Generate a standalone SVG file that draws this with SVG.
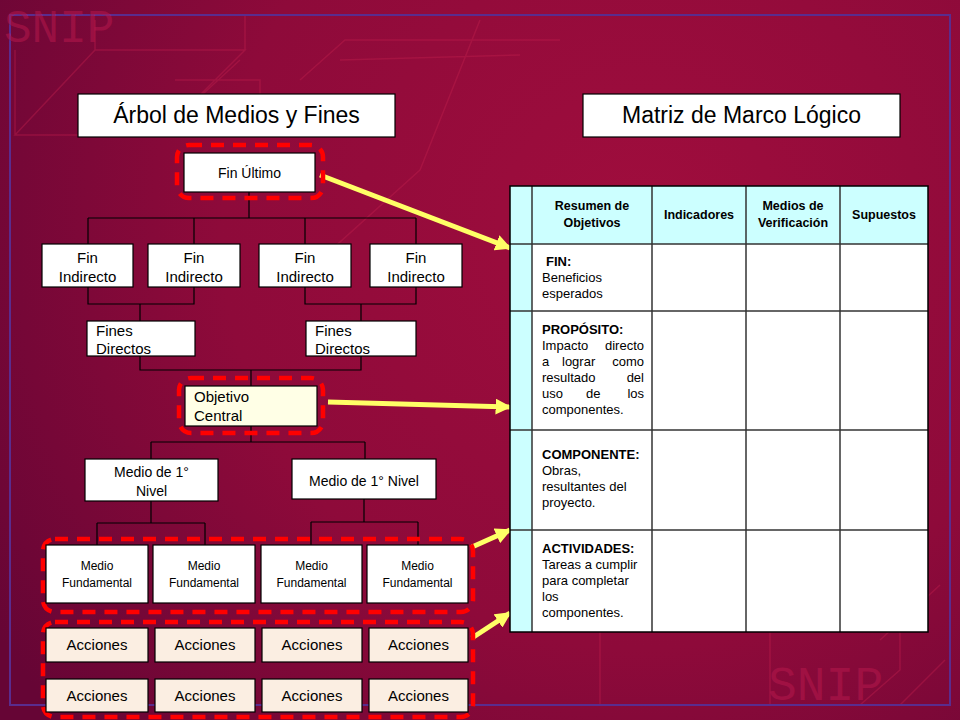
<svg xmlns="http://www.w3.org/2000/svg" width="960" height="720" viewBox="0 0 960 720">
<defs>
<radialGradient id="bg" cx="640" cy="230" r="760" gradientUnits="userSpaceOnUse">
<stop offset="0" stop-color="#a00d3d"/>
<stop offset="0.55" stop-color="#8e0a3a"/>
<stop offset="1" stop-color="#660535"/>
</radialGradient>
<marker id="ah" viewBox="0 0 10 10" refX="9" refY="5" markerWidth="3.2" markerHeight="3.2" orient="auto" markerUnits="strokeWidth">
<path d="M0,0 L10,5 L0,10 Z" fill="#ffff66"/>
</marker>
<style>
.box{fill:#ffffff;stroke:#000;stroke-width:1.2}
.acc{fill:#fbeee2;stroke:#000;stroke-width:1.2}
.obj{fill:#ffffe6;stroke:#000;stroke-width:1.2}
.ttl{fill:#ffffff;stroke:#000;stroke-width:1.2}
.t{font-family:"Liberation Sans",Arial,sans-serif;fill:#000}
.c{text-anchor:middle}
.r{text-anchor:end}
.ln{stroke:#000;stroke-width:1.2;fill:none}
.dash{fill:none;stroke:#ff0000;stroke-width:4.5;stroke-dasharray:13 9}
.arr{stroke:#ffff66;stroke-width:5;fill:none;marker-end:url(#ah)}
.wire{stroke:#c0204e;stroke-width:1.5;fill:none;opacity:0.4}
.wm{font-family:"Liberation Mono","Courier New",monospace;fill:#b5184c;opacity:0.55}
.grid{stroke:#333;stroke-width:1.5}
.cy{fill:#ccffff}
.b{font-weight:bold}
</style>
</defs>
<rect width="960" height="720" fill="url(#bg)"/>
<g id="background">
<path class="wire" d="M15,135 L95,50 L245,50 L160,135 Z M15,135 L15,50 M95,50 L95,20 M245,50 L245,15 M175,80 L260,80 L260,135 M100,115 L180,115 L240,60"/>
<path class="wire" d="M340,60 L520,55 M300,80 L345,40 L560,40 M320,260 L420,170 M420,170 L480,20"/>
<path class="wire" d="M600,630 L770,630 L770,705 M600,630 L600,705 M740,630 L760,612 M900,600 L900,670 L860,705 M880,640 L940,585 M900,705 L945,660"/>
<rect x="10" y="15" width="940" height="690" fill="none" stroke="#5a2c8e" stroke-width="2"/>
<text x="4" y="42" class="wm" font-size="46">SNIP</text>
<text x="768" y="700" class="wm" font-size="48">SNIP</text>
</g>
<g id="connectors">
<path class="ln" d="M249,192 V218 M88,218 H416 M88,218 V244 M194,218 V244 M305,218 V244 M416,218 V244"/>
<path class="ln" d="M88,287 V304 H194 V287 M140,304 V321 M305,287 V304 H416 V287 M361,304 V321"/>
<path class="ln" d="M140,356 V370 H361 V356 M251,370 V386"/>
<path class="ln" d="M251,426 V442 M151,442 H365 M151,442 V459 M365,442 V459"/>
<path class="ln" d="M151,501 V523 M97,523 H205 M97,523 V545 M205,523 V545"/>
<path class="ln" d="M364,499 V522 M311,522 H418 M311,522 V545 M418,522 V545"/>
<line class="arr" x1="320" y1="175" x2="510" y2="248"/>
<line class="arr" x1="328" y1="402" x2="510" y2="407"/>
<line class="arr" x1="472" y1="547" x2="510" y2="530"/>
<line class="arr" x1="472" y1="638" x2="510" y2="613"/>
</g>
<g id="title-arbol">
<rect class="ttl" x="78" y="94" width="317" height="43"/>
<text class="t c" x="236.5" y="123" font-size="23">Árbol de Medios y Fines</text>
</g>
<g id="title-matriz">
<rect class="ttl" x="583" y="94" width="317" height="43"/>
<text class="t c" x="741.5" y="123" font-size="23">Matriz de Marco Lógico</text>
</g>
<g id="fin-ultimo">
<rect class="dash" x="177" y="145" width="146" height="53" rx="12"/>
<rect class="box" x="184" y="153" width="131" height="39"/>
<text class="t c" x="249.5" y="178" font-size="14">Fin Último</text>
</g>
<g id="fin-indirecto-1">
<rect class="box" x="42" y="244" width="91" height="43"/>
<text class="t c" x="87.5" y="263" font-size="15">Fin</text>
<text class="t c" x="87.5" y="282" font-size="15">Indirecto</text>
</g>
<g id="fin-indirecto-2">
<rect class="box" x="148" y="244" width="92" height="43"/>
<text class="t c" x="194" y="263" font-size="15">Fin</text>
<text class="t c" x="194" y="282" font-size="15">Indirecto</text>
</g>
<g id="fin-indirecto-3">
<rect class="box" x="259" y="244" width="92" height="43"/>
<text class="t c" x="305" y="263" font-size="15">Fin</text>
<text class="t c" x="305" y="282" font-size="15">Indirecto</text>
</g>
<g id="fin-indirecto-4">
<rect class="box" x="370" y="244" width="92" height="43"/>
<text class="t c" x="416" y="263" font-size="15">Fin</text>
<text class="t c" x="416" y="282" font-size="15">Indirecto</text>
</g>
<g id="fines-directos-1">
<rect class="box" x="87" y="321" width="108" height="35"/>
<text class="t" x="96" y="336" font-size="15">Fines</text>
<text class="t" x="96" y="354" font-size="15">Directos</text>
</g>
<g id="fines-directos-2">
<rect class="box" x="306" y="321" width="110" height="35"/>
<text class="t" x="315" y="336" font-size="15">Fines</text>
<text class="t" x="315" y="354" font-size="15">Directos</text>
</g>
<g id="objetivo-central">
<rect class="dash" x="179" y="378" width="144" height="55" rx="12"/>
<rect class="obj" x="185" y="386" width="132" height="40"/>
<text class="t" x="194" y="402" font-size="15">Objetivo</text>
<text class="t" x="194" y="421" font-size="15">Central</text>
</g>
<g id="medio-1-nivel-a">
<rect class="box" x="85" y="459" width="133" height="42"/>
<text class="t c" x="151.5" y="477" font-size="14">Medio de 1°</text>
<text class="t c" x="151.5" y="496" font-size="14">Nivel</text>
</g>
<g id="medio-1-nivel-b">
<rect class="box" x="292" y="459" width="144" height="40"/>
<text class="t c" x="364" y="486" font-size="14">Medio de 1° Nivel</text>
</g>
<g id="medios-fundamentales">
<rect class="dash" x="43" y="539" width="430" height="73" rx="12"/>
<rect class="box" x="46" y="545" width="102" height="58"/>
<text class="t c" x="97" y="570" font-size="12">Medio</text>
<text class="t c" x="97" y="587" font-size="12">Fundamental</text>
<rect class="box" x="153" y="545" width="102" height="58"/>
<text class="t c" x="204" y="570" font-size="12">Medio</text>
<text class="t c" x="204" y="587" font-size="12">Fundamental</text>
<rect class="box" x="261" y="545" width="101" height="58"/>
<text class="t c" x="311.5" y="570" font-size="12">Medio</text>
<text class="t c" x="311.5" y="587" font-size="12">Fundamental</text>
<rect class="box" x="367" y="545" width="101" height="58"/>
<text class="t c" x="417.5" y="570" font-size="12">Medio</text>
<text class="t c" x="417.5" y="587" font-size="12">Fundamental</text>
</g>
<g id="acciones">
<rect class="dash" x="43" y="622" width="430" height="95" rx="12"/>
<rect class="acc" x="46" y="628" width="102" height="34"/>
<text class="t c" x="97" y="650" font-size="15">Acciones</text>
<rect class="acc" x="155" y="628" width="100" height="34"/>
<text class="t c" x="205" y="650" font-size="15">Acciones</text>
<rect class="acc" x="262" y="628" width="100" height="34"/>
<text class="t c" x="312" y="650" font-size="15">Acciones</text>
<rect class="acc" x="369" y="628" width="99" height="34"/>
<text class="t c" x="418.5" y="650" font-size="15">Acciones</text>
<rect class="acc" x="46" y="679" width="102" height="33"/>
<text class="t c" x="97" y="701" font-size="15">Acciones</text>
<rect class="acc" x="155" y="679" width="100" height="33"/>
<text class="t c" x="205" y="701" font-size="15">Acciones</text>
<rect class="acc" x="262" y="679" width="100" height="33"/>
<text class="t c" x="312" y="701" font-size="15">Acciones</text>
<rect class="acc" x="369" y="679" width="99" height="33"/>
<text class="t c" x="418.5" y="701" font-size="15">Acciones</text>
</g>
<g id="matriz">
<rect x="510" y="186" width="418" height="446" fill="#ffffff"/>
<rect class="cy" x="510" y="186" width="418" height="58"/>
<rect class="cy" x="510" y="186" width="22" height="446"/>
<g class="grid">
<line x1="532" y1="186" x2="532" y2="632"/>
<line x1="652" y1="186" x2="652" y2="632"/>
<line x1="746" y1="186" x2="746" y2="632"/>
<line x1="840" y1="186" x2="840" y2="632"/>
<line x1="510" y1="244" x2="928" y2="244"/>
<line x1="510" y1="311" x2="928" y2="311"/>
<line x1="510" y1="430" x2="928" y2="430"/>
<line x1="510" y1="530" x2="928" y2="530"/>
</g>
<rect x="510" y="186" width="418" height="446" fill="none" stroke="#000" stroke-width="1.5"/>
<text class="t c b" x="592" y="210" font-size="12.5">Resumen  de</text>
<text class="t c b" x="592" y="227" font-size="12.5">Objetivos</text>
<text class="t c b" x="699" y="219" font-size="12.5">Indicadores</text>
<text class="t c b" x="793" y="210" font-size="12.5">Medios de</text>
<text class="t c b" x="793" y="227" font-size="12.5">Verificación</text>
<text class="t c b" x="884" y="219" font-size="12.5">Supuestos</text>
<text class="t b" x="546" y="266" font-size="13">FIN:</text>
<text class="t" x="542" y="282" font-size="13">Beneficios</text>
<text class="t" x="542" y="298" font-size="13">esperados</text>
<text class="t b" x="542" y="334" font-size="13">PROPÓSITO:</text>
<text class="t" x="542" y="350" font-size="13">Impacto</text>
<text class="t r" x="644" y="350" font-size="13">directo</text>
<text class="t" x="542" y="366" font-size="13">a</text>
<text class="t" x="562" y="366" font-size="13">lograr</text>
<text class="t r" x="644" y="366" font-size="13">como</text>
<text class="t" x="542" y="382" font-size="13">resultado</text>
<text class="t r" x="644" y="382" font-size="13">del</text>
<text class="t" x="542" y="398" font-size="13">uso</text>
<text class="t" x="586" y="398" font-size="13">de</text>
<text class="t r" x="644" y="398" font-size="13">los</text>
<text class="t" x="542" y="414" font-size="13">componentes.</text>
<text class="t b" x="542" y="459" font-size="13">COMPONENTE:</text>
<text class="t" x="542" y="475" font-size="13">Obras,</text>
<text class="t" x="542" y="491" font-size="13">resultantes del</text>
<text class="t" x="542" y="507" font-size="13">proyecto.</text>
<text class="t b" x="542" y="553" font-size="13">ACTIVIDADES:</text>
<text class="t" x="542" y="569" font-size="13">Tareas  a cumplir</text>
<text class="t" x="542" y="585" font-size="13">para completar</text>
<text class="t" x="542" y="601" font-size="13">los</text>
<text class="t" x="542" y="617" font-size="13">componentes.</text>
</g>
</svg>
